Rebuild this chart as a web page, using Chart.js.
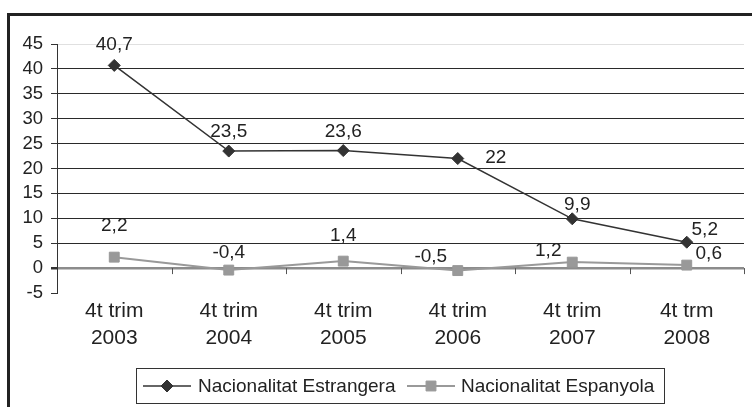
<!DOCTYPE html>
<html><head><meta charset="utf-8">
<script src="https://cdn.jsdelivr.net/npm/chart.js@4.4.1/dist/chart.umd.min.js"></script>
<style>
html,body{margin:0;padding:0;background:#fff;}
#wrap{position:relative;width:752px;height:407px;overflow:hidden;background:#fff;}
#frame{position:absolute;left:7px;top:13px;width:800px;height:500px;border-left:3px solid #222;border-top:3px solid #222;box-sizing:border-box;}
canvas{position:absolute;left:0;top:0;}
</style></head><body>
<div id="wrap"><div id="frame"></div><canvas id="c" width="752" height="407"></canvas></div>
<script>
// ---- data ----
const categories = [["4t trim","2003"],["4t trim","2004"],["4t trim","2005"],["4t trim","2006"],["4t trim","2007"],["4t trm","2008"]];
const estrangera = [40.7, 23.5, 23.6, 22, 9.9, 5.2];
const espanyola = [2.2, -0.4, 1.4, -0.5, 1.2, 0.6];
const seriesNames = ["Nacionalitat Estrangera", "Nacionalitat Espanyola"];
const yMin = -5, yMax = 45, yStep = 5;

// ---- label placement (style, relative to points) ----
const labelOffsets = [
  [[0,-21],[0,-19],[0,-19],[38,-1],[5,-14],[18,-12]],
  [[0,-31],[0,-17],[0,-25],[-27,-14],[-24,-11],[22,-11]]
];
const FONT = "'Liberation Sans', Arial, sans-serif";
const fmt = v => String(v).replace('.', ',');

const zeroAndLabels = {
  id: 'zeroAndLabels',
  beforeDatasetsDraw(chart) {
    const {ctx, scales:{x, y}} = chart;
    const y0 = y.getPixelForValue(0);
    const n = categories.length;
    const step = x.getPixelForValue(1) - x.getPixelForValue(0);
    ctx.save();
    ctx.strokeStyle = '#555';
    ctx.lineWidth = 1;
    for (let i = 1; i <= n; i++) {
      const px = Math.round(x.getPixelForValue(i) - step/2) + 0.5;
      ctx.beginPath(); ctx.moveTo(px, y0); ctx.lineTo(px, y0 + 6); ctx.stroke();
    }
    ctx.restore();
  },
  afterDatasetsDraw(chart) {
    const {ctx} = chart;
    ctx.save();
    ctx.font = "19px " + FONT;
    ctx.fillStyle = '#222';
    ctx.textAlign = 'center';
    ctx.textBaseline = 'middle';
    chart.data.datasets.forEach((ds, di) => {
      const meta = chart.getDatasetMeta(di);
      meta.data.forEach((pt, i) => {
        const o = labelOffsets[di][i];
        ctx.fillText(fmt(ds.data[i]), pt.x + o[0], pt.y + o[1]);
      });
    });
    ctx.restore();
  },
  afterDraw(chart) {
    const {ctx} = chart;
    const H = Chart.helpers;
    ctx.save();
    // legend box
    const bx = 136.5, by = 368.5, bw = 528, bh = 35;
    ctx.strokeStyle = '#333'; ctx.lineWidth = 1;
    ctx.strokeRect(bx, by, bw, bh);
    ctx.font = "19px " + FONT;
    ctx.textBaseline = 'middle'; ctx.textAlign = 'left';
    const cy = by + bh/2;
    const items = [{x0:143, tx:198}, {x0:407, tx:461}];
    chart.data.datasets.forEach((ds, di) => {
      const it = items[di];
      ctx.strokeStyle = ds.borderColor; ctx.lineWidth = ds.borderWidth;
      ctx.beginPath(); ctx.moveTo(it.x0, cy); ctx.lineTo(it.x0 + 48, cy); ctx.stroke();
      ctx.fillStyle = ds.pointBackgroundColor; ctx.strokeStyle = ds.pointBorderColor; ctx.lineWidth = 1;
      H.drawPoint(ctx, {pointStyle: ds.pointStyle, radius: ds.pointRadius, borderWidth: 1}, it.x0 + 24, cy);
      ctx.fillStyle = '#222';
      ctx.fillText(ds.label, it.tx, cy + 1);
    });
    ctx.restore();
  }
};

new Chart(document.getElementById('c'), {
  type: 'line',
  data: {
    labels: categories,
    datasets: [
      {label: seriesNames[0], data: estrangera, borderColor: '#333', borderWidth: 1.5,
       pointStyle: 'rectRot', pointRadius: 6, pointBackgroundColor: '#333', pointBorderColor: '#333', pointBorderWidth: 1, tension: 0},
      {label: seriesNames[1], data: espanyola, borderColor: '#999', borderWidth: 2,
       pointStyle: 'rect', pointRadius: 7, pointBackgroundColor: '#999', pointBorderColor: '#999', pointBorderWidth: 1, tension: 0}
    ]
  },
  options: {
    responsive: false, animation: false, devicePixelRatio: 1,
    layout: {padding: {top: 44, right: 6, left: 0, bottom: 0}},
    plugins: {legend: {display: false}, tooltip: {enabled: false}, title: {display: false}},
    scales: {
      x: {
        offset: true,
        grid: {display: false, drawTicks: false},
        border: {display: false},
        ticks: {font: {family: FONT, size: 21, lineHeight: 1.27}, color: '#222', padding: 5, maxRotation: 0, autoSkip: false},
        afterFit: s => { s.height = 114; }
      },
      y: {
        min: yMin, max: yMax,
        grid: {
          drawTicks: true, tickLength: 6, tickColor: '#333',
          color: c => c.tick.value === 0 ? '#8c8c8c' : (c.tick.value === yMax ? '#e0e0e0' : (c.tick.value === yMin ? 'rgba(0,0,0,0)' : '#2a2a2a')),
          lineWidth: c => c.tick.value === 0 ? 2.5 : 1
        },
        border: {display: true, color: '#333', width: 1},
        ticks: {stepSize: yStep, autoSkip: false, font: {family: FONT, size: 18.5}, color: '#222', padding: 8},
        afterFit: s => { s.width = 57; }
      }
    }
  },
  plugins: [zeroAndLabels]
});
</script>
</body></html>
